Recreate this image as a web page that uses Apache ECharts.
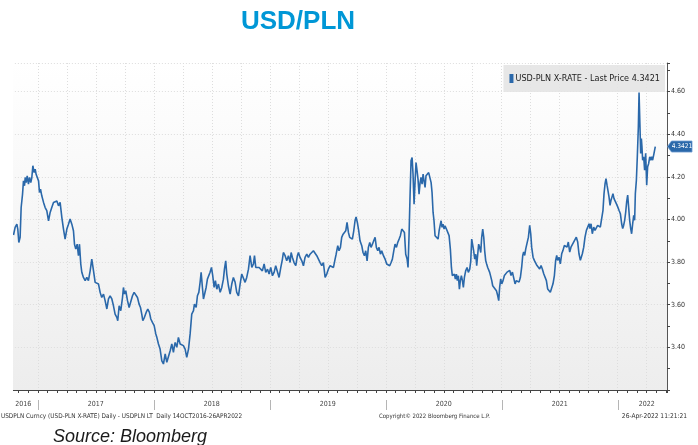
<!DOCTYPE html>
<html><head><meta charset="utf-8">
<script src="https://cdn.jsdelivr.net/npm/echarts@6/dist/echarts.min.js"></script>
<style>html,body{margin:0;padding:0;background:#fff}#c{width:698px;height:445px}</style>
</head><body><div id="c"></div>
<script>
// USD/PLN daily, x = fractional year, y = rate
const pts2016 = [[2016.790,3.927],[2016.804,3.963],[2016.819,3.978],[2016.827,3.955],[2016.836,3.892],[2016.847,3.916],[2016.856,4.056],[2016.868,4.119],[2016.876,4.181],[2016.885,4.158],[2016.891,4.197],[2016.899,4.173],[2016.908,4.205],[2016.919,4.166],[2016.928,4.197],[2016.939,4.173],[2016.948,4.197],[2016.957,4.252],[2016.968,4.220],[2016.977,4.236],[2016.985,4.212],[2016.997,4.220]];
const pts2017 = [[2017.006,4.181],[2017.014,4.127],[2017.023,4.142],[2017.034,4.111],[2017.049,4.080],[2017.063,4.056],[2017.077,4.041],[2017.092,3.994],[2017.106,4.033],[2017.120,4.056],[2017.135,4.080],[2017.149,4.072],[2017.164,4.087],[2017.178,4.064],[2017.192,4.080],[2017.207,4.009],[2017.221,3.955],[2017.235,3.908],[2017.250,3.955],[2017.264,3.978],[2017.278,4.002],[2017.293,3.978],[2017.307,3.947],[2017.316,3.884],[2017.327,3.861],[2017.339,3.884],[2017.350,3.830],[2017.359,3.884],[2017.370,3.791],[2017.379,3.752],[2017.393,3.728],[2017.408,3.713],[2017.422,3.728],[2017.436,3.713],[2017.451,3.759],[2017.465,3.814],[2017.480,3.759],[2017.494,3.705],[2017.508,3.713],[2017.523,3.697],[2017.537,3.658],[2017.551,3.634],[2017.566,3.650],[2017.580,3.619],[2017.595,3.580],[2017.609,3.627],[2017.623,3.642],[2017.638,3.627],[2017.652,3.595],[2017.666,3.556],[2017.681,3.541],[2017.689,3.525],[2017.701,3.595],[2017.715,3.572],[2017.730,3.634],[2017.738,3.681],[2017.747,3.650],[2017.758,3.666],[2017.773,3.619],[2017.787,3.587],[2017.801,3.595],[2017.816,3.642],[2017.830,3.658],[2017.845,3.650],[2017.859,3.634],[2017.873,3.603],[2017.885,3.587],[2017.896,3.556],[2017.905,3.525],[2017.919,3.541],[2017.934,3.564],[2017.948,3.580],[2017.962,3.564],[2017.974,3.533],[2017.988,3.517]];
const pts2018 = [[2018.003,3.502],[2018.017,3.463],[2018.026,3.447],[2018.040,3.416],[2018.054,3.392],[2018.069,3.337],[2018.083,3.322],[2018.098,3.369],[2018.112,3.330],[2018.126,3.322],[2018.141,3.384],[2018.155,3.416],[2018.169,3.377],[2018.178,3.408],[2018.184,3.423],[2018.198,3.400],[2018.212,3.447],[2018.227,3.416],[2018.241,3.423],[2018.255,3.408],[2018.270,3.392],[2018.284,3.353],[2018.299,3.392],[2018.313,3.463],[2018.327,3.556],[2018.342,3.572],[2018.350,3.603],[2018.365,3.587],[2018.376,3.642],[2018.388,3.658],[2018.399,3.705],[2018.408,3.752],[2018.419,3.681],[2018.428,3.627],[2018.439,3.619],[2018.451,3.681],[2018.462,3.720],[2018.474,3.713],[2018.485,3.752],[2018.497,3.775],[2018.508,3.736],[2018.520,3.681],[2018.531,3.713],[2018.543,3.673],[2018.557,3.697],[2018.572,3.658],[2018.586,3.681],[2018.600,3.720],[2018.609,3.767],[2018.620,3.806],[2018.629,3.744],[2018.643,3.689],[2018.658,3.650],[2018.672,3.697],[2018.686,3.728],[2018.701,3.705],[2018.715,3.658],[2018.730,3.642],[2018.744,3.697],[2018.758,3.744],[2018.773,3.752],[2018.787,3.705],[2018.801,3.728],[2018.816,3.767],[2018.830,3.830],[2018.845,3.775],[2018.859,3.791],[2018.868,3.830],[2018.879,3.775],[2018.893,3.783],[2018.908,3.775],[2018.922,3.783],[2018.936,3.759],[2018.951,3.791],[2018.965,3.752],[2018.980,3.767],[2018.994,3.744]];
const pts2019 = [[2019.008,3.775],[2019.023,3.736],[2019.037,3.752],[2019.051,3.783],[2019.066,3.775],[2019.080,3.728],[2019.095,3.775],[2019.109,3.814],[2019.117,3.845],[2019.132,3.830],[2019.146,3.806],[2019.161,3.830],[2019.175,3.798],[2019.184,3.845],[2019.195,3.822],[2019.209,3.798],[2019.224,3.783],[2019.238,3.830],[2019.247,3.845],[2019.261,3.822],[2019.276,3.806],[2019.290,3.783],[2019.304,3.822],[2019.319,3.837],[2019.333,3.822],[2019.347,3.837],[2019.362,3.830],[2019.376,3.853],[2019.390,3.853],[2019.405,3.830],[2019.419,3.837],[2019.434,3.798],[2019.448,3.783],[2019.462,3.798],[2019.477,3.728],[2019.491,3.744],[2019.505,3.767],[2019.520,3.783],[2019.534,3.791],[2019.549,3.775],[2019.563,3.814],[2019.572,3.837],[2019.586,3.877],[2019.597,3.853],[2019.609,3.869],[2019.620,3.916],[2019.632,3.931],[2019.643,3.931],[2019.655,3.947],[2019.666,3.986],[2019.678,3.939],[2019.689,3.916],[2019.701,3.924],[2019.712,3.908],[2019.724,3.947],[2019.735,3.994],[2019.744,4.012],[2019.755,3.986],[2019.767,3.947],[2019.778,3.900],[2019.793,3.877],[2019.804,3.845],[2019.816,3.830],[2019.827,3.853],[2019.839,3.806],[2019.850,3.869],[2019.862,3.892],[2019.873,3.869],[2019.885,3.884],[2019.896,3.900],[2019.908,3.916],[2019.919,3.869],[2019.931,3.853],[2019.942,3.869],[2019.954,3.837],[2019.965,3.853],[2019.980,3.830],[2019.994,3.814]];
const pts2020 = [[2020.008,3.791],[2020.023,3.798],[2020.034,3.783],[2020.046,3.798],[2020.057,3.814],[2020.069,3.853],[2020.080,3.884],[2020.092,3.869],[2020.103,3.892],[2020.115,3.908],[2020.126,3.924],[2020.138,3.955],[2020.152,3.963],[2020.161,3.939],[2020.172,3.837],[2020.184,3.814],[2020.192,3.775],[2020.201,3.931],[2020.209,4.103],[2020.218,4.275],[2020.227,4.291],[2020.235,4.213],[2020.244,4.072],[2020.253,4.181],[2020.261,4.267],[2020.270,4.228],[2020.278,4.189],[2020.287,4.119],[2020.296,4.173],[2020.304,4.197],[2020.313,4.166],[2020.322,4.213],[2020.330,4.181],[2020.339,4.150],[2020.347,4.205],[2020.359,4.213],[2020.370,4.220],[2020.382,4.220],[2020.391,4.173],[2020.399,4.127],[2020.408,4.033],[2020.416,3.994],[2020.425,3.924],[2020.434,3.916],[2020.442,3.931],[2020.451,3.908],[2020.460,3.947],[2020.468,3.970],[2020.477,3.994],[2020.485,3.963],[2020.494,3.978],[2020.503,3.955],[2020.511,3.970],[2020.523,3.955],[2020.534,3.955],[2020.546,3.924],[2020.557,3.861],[2020.566,3.775],[2020.574,3.736],[2020.583,3.728],[2020.592,3.744],[2020.600,3.720],[2020.609,3.744],[2020.617,3.713],[2020.626,3.736],[2020.635,3.673],[2020.643,3.713],[2020.652,3.736],[2020.661,3.713],[2020.669,3.681],[2020.678,3.728],[2020.689,3.759],[2020.701,3.775],[2020.712,3.752],[2020.724,3.767],[2020.733,3.806],[2020.741,3.908],[2020.750,3.916],[2020.758,3.853],[2020.767,3.814],[2020.776,3.837],[2020.784,3.783],[2020.793,3.837],[2020.801,3.884],[2020.810,3.869],[2020.819,3.845],[2020.827,3.916],[2020.836,3.955],[2020.845,3.916],[2020.853,3.853],[2020.862,3.806],[2020.870,3.791],[2020.879,3.775],[2020.888,3.767],[2020.896,3.752],[2020.905,3.744],[2020.914,3.713],[2020.922,3.689],[2020.931,3.681],[2020.939,3.689],[2020.954,3.666],[2020.965,3.643],[2020.974,3.619],[2020.982,3.682],[2020.991,3.721]];
const pts2021 = [[2021.000,3.698],[2021.011,3.713],[2021.023,3.737],[2021.034,3.729],[2021.046,3.753],[2021.057,3.745],[2021.069,3.761],[2021.080,3.737],[2021.092,3.753],[2021.103,3.745],[2021.115,3.698],[2021.126,3.713],[2021.138,3.706],[2021.149,3.706],[2021.161,3.729],[2021.172,3.776],[2021.181,3.831],[2021.189,3.847],[2021.198,3.831],[2021.207,3.862],[2021.218,3.855],[2021.230,3.917],[2021.241,3.972],[2021.250,3.933],[2021.258,3.870],[2021.270,3.823],[2021.281,3.808],[2021.293,3.800],[2021.304,3.784],[2021.316,3.792],[2021.327,3.768],[2021.339,3.784],[2021.350,3.768],[2021.362,3.745],[2021.373,3.753],[2021.385,3.713],[2021.396,3.674],[2021.408,3.666],[2021.419,3.659],[2021.431,3.666],[2021.442,3.698],[2021.454,3.737],[2021.465,3.808],[2021.474,3.831],[2021.482,3.808],[2021.494,3.823],[2021.505,3.792],[2021.517,3.839],[2021.528,3.855],[2021.540,3.878],[2021.551,3.886],[2021.563,3.870],[2021.574,3.894],[2021.586,3.847],[2021.597,3.870],[2021.609,3.878],[2021.620,3.894],[2021.632,3.886],[2021.643,3.917],[2021.655,3.894],[2021.666,3.839],[2021.678,3.808],[2021.686,3.800],[2021.695,3.839],[2021.707,3.870],[2021.718,3.917],[2021.730,3.949],[2021.741,3.957],[2021.753,3.980],[2021.761,3.957],[2021.770,3.980],[2021.781,3.933],[2021.793,3.964],[2021.804,3.949],[2021.816,3.957],[2021.827,3.972],[2021.839,3.980],[2021.850,3.964],[2021.862,3.972],[2021.873,4.043],[2021.882,4.121],[2021.891,4.168],[2021.899,4.192],[2021.908,4.161],[2021.916,4.153],[2021.925,4.106],[2021.934,4.066],[2021.942,4.090],[2021.951,4.106],[2021.959,4.121],[2021.968,4.098],[2021.977,4.090],[2021.988,4.074]];
const pts2022 = [[2022.000,4.059],[2022.011,4.043],[2022.023,4.027],[2022.034,3.980],[2022.043,3.957],[2022.051,3.972],[2022.060,3.996],[2022.069,4.035],[2022.077,4.082],[2022.086,4.114],[2022.094,4.059],[2022.103,3.996],[2022.112,3.957],[2022.120,3.933],[2022.129,3.980],[2022.138,4.019],[2022.146,3.996],[2022.152,4.121],[2022.161,4.184],[2022.169,4.294],[2022.178,4.435],[2022.184,4.595],[2022.192,4.435],[2022.198,4.310],[2022.204,4.380],[2022.209,4.341],[2022.215,4.278],[2022.224,4.294],[2022.232,4.231],[2022.241,4.310],[2022.250,4.161],[2022.258,4.247],[2022.267,4.263],[2022.276,4.294],[2022.284,4.278],[2022.293,4.294],[2022.301,4.278],[2022.310,4.302],[2022.319,4.294],[2022.324,4.3421]];

const lastPrice = 4.3421;
const seriesName = 'USD-PLN X-RATE - Last Price 4.3421';
const yearLabelPos = [2016.875, 2017.5, 2018.5, 2019.5, 2020.5, 2021.5, 2022.25];
const yearLabelText = ['2016', '2017', '2018', '2019', '2020', '2021', '2022'];
const yearBounds = [2017, 2018, 2019, 2020, 2021, 2022];
const xStart = 2016.75, xEnd = 2022.425, dataStart = 2016.79;
const yMin = 3.2, yMax = 4.734, yStep = 0.2;
const footerLeft = 'USDPLN Curncy (USD-PLN X-RATE) Daily - USDPLN LT  Daily 14OCT2016-26APR2022';
const footerMid = 'Copyright\u00a9 2022 Bloomberg Finance L.P.';
const footerRight = '26-Apr-2022 11:21:21';

const NARROW = "'Liberation Sans Narrow','DejaVu Sans Condensed','Liberation Sans',sans-serif";
const LINE = '#2a68aa';
const GRID = '#dddddd';

const chart = echarts.init(document.getElementById('c'), null, {width: 698, height: 445});
const allPts = [].concat(pts2016, pts2017, pts2018, pts2019, pts2020, pts2021, pts2022);

chart.setOption({
  animation: false,
  backgroundColor: '#ffffff',
  grid: {
    left: 8.86, right: 31, top: 63, bottom: 55, show: true, borderWidth: 0,
    backgroundColor: new echarts.graphic.LinearGradient(0, 0, 0, 1, [
      {offset: 0, color: '#ffffff'}, {offset: 1, color: '#ededed'}])
  },
  legend: {
    right: 33, top: 65, icon: 'rect', itemWidth: 4, itemHeight: 9, itemGap: 0,
    padding: [9, 5, 9, 6], backgroundColor: 'rgba(228,228,228,0.9)',
    textStyle: {fontSize: 9, fontFamily: NARROW, color: '#222', padding: [0, 0, 0, -3]},
    data: [seriesName]
  },
  xAxis: [{
    type: 'value', min: xStart, max: xEnd, interval: 0.25, position: 'bottom',
    axisLine: {show: true, onZero: false, lineStyle: {color: '#444', width: 1}},
    axisTick: {show: true, length: 3, lineStyle: {color: '#444'}},
    minorTick: {show: true, splitNumber: 3, length: 3, lineStyle: {color: '#444'}},
    axisLabel: {show: false},
    splitLine: {show: true, lineStyle: {color: GRID, type: [1, 2], width: 1}}
  }, {
    type: 'value', min: xStart, max: xEnd, interval: 0.125, position: 'bottom',
    axisLine: {show: false}, axisTick: {show: false}, splitLine: {show: false},
    axisLabel: {
      show: true, margin: 11, fontSize: 7, color: '#444', fontFamily: NARROW,
      formatter: v => {
        for (let i = 0; i < yearLabelPos.length; i++) {
          if (Math.abs(v - yearLabelPos[i]) < 1e-6) return yearLabelText[i];
        }
        return '';
      }
    }
  }],
  yAxis: {
    type: 'value', position: 'right', min: yMin, max: yMax, interval: yStep,
    axisLine: {show: true, lineStyle: {color: '#555', width: 1}},
    axisTick: {show: true, length: 3, lineStyle: {color: '#444'}},
    minorTick: {show: true, splitNumber: 2, length: 3, lineStyle: {color: '#444'}},
    axisLabel: {
      margin: 4, fontSize: 7, color: '#333', fontFamily: NARROW,
      formatter: v => (v < 3.3 || v > 4.65) ? '' : v.toFixed(2)
    },
    splitLine: {show: true, lineStyle: {color: GRID, type: [1, 2], width: 1}}
  },
  series: [{
    name: seriesName, type: 'line', xAxisIndex: 0, yAxisIndex: 0,
    data: allPts, showSymbol: false, symbol: 'none',
    lineStyle: {color: LINE, width: 1.6}, itemStyle: {color: LINE},
    z: 5
  }]
});

// overlays computed from the library's scales
const gx0 = chart.convertToPixel({xAxisIndex: 0}, xStart);
const gxData = chart.convertToPixel({xAxisIndex: 0}, dataStart);
const gxR = chart.convertToPixel({xAxisIndex: 0}, xEnd);
const gyTop = chart.convertToPixel({yAxisIndex: 0}, yMax);
const gyBot = chart.convertToPixel({yAxisIndex: 0}, yMin);
const yTag = chart.convertToPixel({yAxisIndex: 0}, lastPrice);

const g = [];
g.push({type: 'rect', z: 100, shape: {x: gx0 - 1, y: gyTop - 1, width: gxData - gx0 + 0.5, height: gyBot - gyTop + 6}, style: {fill: '#ffffff'}});
yearBounds.forEach(yr => {
  const x = Math.round(chart.convertToPixel({xAxisIndex: 0}, yr)) + 0.5;
  g.push({type: 'line', z: 100, shape: {x1: x, y1: 400, x2: x, y2: 410}, style: {stroke: '#b5b5b5', lineWidth: 1}});
});
g.push({type: 'polygon', z: 100, shape: {points: [[gxR + 0.5, yTag], [gxR + 4.5, yTag - 5.5], [gxR + 25, yTag - 5.5], [gxR + 25, yTag + 5.5], [gxR + 4.5, yTag + 5.5]]}, style: {fill: LINE, stroke: '#6d9bd0', lineWidth: 0.8}});
g.push({type: 'text', z: 101, x: gxR + 15, y: yTag, style: {text: lastPrice.toFixed(4), fill: '#ffffff', fontSize: 6.5, fontFamily: NARROW, align: 'center', verticalAlign: 'middle'}});
g.push({type: 'text', z: 100, x: 298, y: 22, style: {text: 'USD/PLN', fill: '#0097d6', fontSize: 26, fontWeight: 'bold', fontFamily: "'Liberation Sans',Arial,sans-serif", align: 'center', verticalAlign: 'middle'}});
g.push({type: 'text', z: 100, x: 1, y: 416, style: {text: footerLeft, fill: '#333', fontSize: 6.4, fontFamily: NARROW, align: 'left', verticalAlign: 'middle'}});
g.push({type: 'text', z: 100, x: 379, y: 416, style: {text: footerMid, fill: '#333', fontSize: 6, fontFamily: NARROW, align: 'left', verticalAlign: 'middle'}});
g.push({type: 'text', z: 100, x: 687, y: 416, style: {text: footerRight, fill: '#333', fontSize: 6.6, fontFamily: NARROW, align: 'right', verticalAlign: 'middle'}});
g.push({type: 'text', z: 100, x: 53, y: 437, style: {text: 'Source: Bloomberg', fill: '#1a1a1a', fontSize: 18, fontStyle: 'italic', fontFamily: "'Liberation Sans',Arial,sans-serif", align: 'left', verticalAlign: 'middle'}});
chart.setOption({graphic: {elements: g}});
</script>
</body></html>
